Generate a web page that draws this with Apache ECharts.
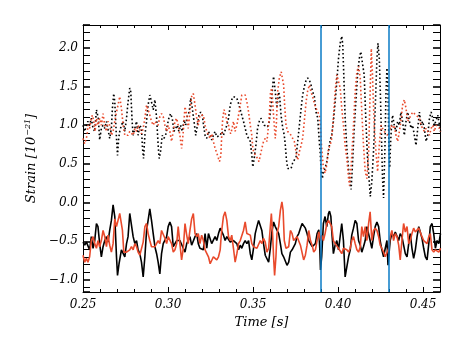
<!DOCTYPE html>
<html><head><meta charset="utf-8">
<script src="https://cdn.jsdelivr.net/npm/echarts@6/dist/echarts.min.js"></script>
<style>html,body{margin:0;padding:0;background:#fff}#c{width:476px;height:354px}</style>
</head><body><div id="c"></div>
<script>
// axis ranges
const xRange = [0.25, 0.46];
const yRange = [-1.155, 2.295];
// event markers (s)
const markerTimes = [0.39, 0.43];

// [time, strain] pairs
const blackDotted = [[0.2500,1.00],[0.2510,0.92],[0.2520,1.00],[0.2529,1.05],[0.2539,1.00],[0.2549,1.09],[0.2559,0.96],[0.2569,0.92],[0.2579,1.20],[0.2585,1.22],[0.2590,1.09],[0.2598,0.81],[0.2608,0.96],[0.2618,1.00],[0.2628,0.96],[0.2638,1.05],[0.2647,1.07],[0.2657,0.83],[0.2667,0.96],[0.2673,1.22],[0.2681,1.41],[0.2687,1.30],[0.2697,0.83],[0.2703,0.61],[0.2710,0.83],[0.2716,0.92],[0.2726,1.00],[0.2736,1.05],[0.2746,0.92],[0.2756,1.09],[0.2765,1.30],[0.2775,1.48],[0.2781,1.43],[0.2789,1.05],[0.2795,0.87],[0.2805,0.96],[0.2815,1.05],[0.2824,0.87],[0.2834,1.00],[0.2844,0.96],[0.2850,0.70],[0.2856,0.57],[0.2864,0.87],[0.2874,1.05],[0.2883,1.26],[0.2893,1.39],[0.2903,1.30],[0.2913,1.20],[0.2923,1.33],[0.2933,1.09],[0.2942,0.74],[0.2948,0.57],[0.2956,0.66],[0.2966,0.87],[0.2976,0.83],[0.2986,0.87],[0.2996,1.00],[0.3005,1.09],[0.3015,1.15],[0.3025,1.09],[0.3035,0.92],[0.3045,0.92],[0.3055,1.00],[0.3064,0.92],[0.3074,1.00],[0.3084,0.92],[0.3094,1.07],[0.3104,1.00],[0.3114,1.13],[0.3125,1.17],[0.3133,1.35],[0.3143,1.22],[0.3153,1.05],[0.3163,0.87],[0.3173,1.00],[0.3182,1.13],[0.3192,1.17],[0.3202,1.13],
[0.3208,1.02],[0.3218,0.87],[0.3228,0.83],[0.3238,0.92],[0.3248,0.87],[0.3257,0.81],[0.3267,0.87],[0.3277,0.92],[0.3287,0.85],[0.3297,0.83],[0.3307,0.87],[0.3316,0.92],[0.3326,0.87],[0.3336,0.87],[0.3346,1.00],[0.3356,1.09],[0.3366,1.26],[0.3375,1.33],[0.3385,1.37],[0.3395,1.38],[0.3405,1.35],[0.3415,1.28],[0.3425,1.26],[0.3434,1.13],[0.3444,1.05],[0.3454,0.96],[0.3464,0.87],[0.3474,0.83],[0.3484,0.79],[0.3493,0.61],[0.3499,0.46],[0.3507,0.57],[0.3517,0.74],[0.3527,0.96],[0.3537,1.05],[0.3546,1.09],[0.3556,1.05],[0.3566,1.00],[0.3576,0.98],[0.3586,0.98],[0.3596,1.05],[0.3606,1.26],[0.3615,1.48],[0.3621,1.63],[0.3631,1.43],[0.3641,1.22],[0.3651,1.43],[0.3657,1.37],[0.3665,1.13],[0.3675,0.96],[0.3684,0.87],[0.3690,0.74],[0.3696,0.57],[0.3704,0.44],[0.3714,0.42],[0.3724,0.44],[0.3733,0.51],[0.3743,0.51],[0.3753,0.59],[0.3763,0.79],[0.3773,1.00],[0.3783,1.22],[0.3792,1.39],[0.3802,1.50],[0.3812,1.58],[0.3822,1.61],[0.3832,1.58],[0.3841,1.52],[0.3851,1.43],[0.3861,1.37],[0.3871,1.17],[0.3881,1.09],
[0.3890,0.79],[0.3895,0.66],[0.3900,0.44],[0.3908,0.31],[0.3914,0.40],[0.3924,0.44],[0.3934,0.53],[0.3944,0.66],[0.3954,0.81],[0.3963,0.87],[0.3973,1.05],[0.3983,1.30],[0.3993,1.56],[0.4003,1.86],[0.4013,2.06],[0.4022,2.15],[0.4028,2.04],[0.4034,1.65],[0.4042,1.09],[0.4052,0.70],[0.4062,0.44],[0.4072,0.23],[0.4077,0.17],[0.4085,0.49],[0.4095,0.96],[0.4105,1.30],[0.4115,1.65],[0.4125,1.86],[0.4134,1.95],[0.4144,1.97],[0.4154,1.65],[0.4164,1.05],[0.4174,0.57],[0.4184,0.27],[0.4190,0.08],[0.4199,0.27],[0.4209,0.66],[0.4219,1.22],[0.4229,1.86],[0.4235,2.06],[0.4243,1.86],[0.4249,1.43],[0.4255,0.92],[0.4262,0.31],[0.4268,0.06],[0.4276,0.70],[0.4282,1.40],[0.4288,1.74],[0.4294,1.50],[0.4300,0.70],[0.4304,0.45],[0.4310,0.80],[0.4315,1.00],[0.4321,1.13],[0.4331,1.00],[0.4341,0.92],[0.4351,1.05],[0.4361,1.00],[0.4370,1.17],[0.4380,1.05],[0.4390,0.87],[0.4400,1.05],[0.4410,1.17],[0.4420,1.05],[0.4430,0.96],[0.4439,1.00],[0.4449,0.87],[0.4459,0.74],[0.4469,0.96],[0.4479,1.17],[0.4488,1.00],[0.4498,1.05],[0.4508,0.96],[0.4518,0.79],[0.4528,0.87],[0.4538,1.09],[0.4548,1.17],[0.4557,1.09],[0.4567,1.00],[0.4577,1.00],[0.4587,1.13],[0.4597,1.00],[0.4603,0.92]];

const redDotted = [[0.2500,0.83],[0.2510,0.76],[0.2516,0.74],[0.2524,0.87],[0.2529,1.00],[0.2539,0.96],[0.2549,1.09],[0.2555,1.13],[0.2563,1.05],[0.2571,0.92],[0.2579,1.09],[0.2588,1.00],[0.2598,1.09],[0.2608,1.00],[0.2618,1.15],[0.2628,1.00],[0.2638,0.92],[0.2647,1.05],[0.2657,1.00],[0.2667,0.87],[0.2677,0.92],[0.2687,1.05],[0.2697,1.17],[0.2706,1.26],[0.2716,1.37],[0.2726,1.22],[0.2736,1.00],[0.2746,0.87],[0.2756,0.89],[0.2765,0.87],[0.2775,0.92],[0.2785,0.94],[0.2795,0.87],[0.2805,0.96],[0.2815,0.92],[0.2824,1.00],[0.2834,0.98],[0.2844,0.89],[0.2854,0.96],[0.2864,1.09],[0.2874,1.26],[0.2883,1.28],[0.2893,1.13],[0.2903,1.05],[0.2913,1.00],[0.2923,1.05],[0.2933,1.05],[0.2942,1.00],[0.2952,1.11],[0.2962,1.15],[0.2972,1.11],[0.2982,1.00],[0.2992,0.92],[0.3001,1.00],[0.3011,0.92],[0.3021,0.79],[0.3031,0.92],[0.3041,1.05],[0.3051,1.09],[0.3060,1.00],[0.3070,0.87],[0.3080,0.70],[0.3090,0.92],[0.3100,1.24],[0.3110,1.13],[0.3119,0.96],[0.3129,1.17],[0.3139,1.37],[0.3149,1.41],[0.3159,1.26],[0.3169,1.09],[0.3178,1.00],[0.3188,1.13],[0.3198,1.13],
[0.3208,1.13],[0.3218,1.00],[0.3228,0.92],[0.3238,0.87],[0.3248,0.83],[0.3257,0.89],[0.3267,0.79],[0.3277,0.70],[0.3287,0.64],[0.3297,0.57],[0.3303,0.53],[0.3311,0.61],[0.3316,0.87],[0.3322,1.09],[0.3330,1.20],[0.3340,1.13],[0.3346,1.05],[0.3356,1.00],[0.3362,0.92],[0.3369,0.89],[0.3377,0.96],[0.3385,1.05],[0.3395,0.92],[0.3405,1.00],[0.3415,1.13],[0.3425,1.26],[0.3434,1.39],[0.3444,1.41],[0.3454,1.39],[0.3464,1.30],[0.3474,1.17],[0.3484,1.00],[0.3493,0.87],[0.3499,0.70],[0.3507,0.64],[0.3517,0.66],[0.3527,0.57],[0.3535,0.53],[0.3543,0.61],[0.3552,0.70],[0.3562,0.79],[0.3572,0.83],[0.3582,0.79],[0.3588,0.92],[0.3596,1.13],[0.3603,1.43],[0.3611,1.48],[0.3617,1.26],[0.3625,1.00],[0.3631,0.83],[0.3637,1.00],[0.3645,1.43],[0.3655,1.61],[0.3666,1.69],[0.3674,1.70],[0.3680,1.52],[0.3686,1.26],[0.3694,1.00],[0.3704,0.92],[0.3714,0.92],[0.3724,0.87],[0.3733,0.87],[0.3743,0.79],[0.3753,0.66],[0.3763,0.55],[0.3773,0.66],[0.3783,0.74],[0.3792,0.83],[0.3802,1.05],[0.3812,1.30],[0.3822,1.45],[0.3832,1.52],[0.3841,1.43],[0.3851,1.37],[0.3861,1.28],[0.3871,1.22],[0.3881,1.17],[0.3891,1.13],
[0.3897,0.95],[0.3904,0.70],[0.3914,0.45],[0.3924,0.38],[0.3934,0.49],[0.3944,0.70],[0.3954,0.74],[0.3963,0.83],[0.3973,1.09],[0.3983,1.43],[0.3993,1.65],[0.4003,1.67],[0.4013,1.48],[0.4022,1.22],[0.4032,1.00],[0.4042,0.74],[0.4052,0.57],[0.4062,0.32],[0.4068,0.22],[0.4077,0.45],[0.4091,1.00],[0.4101,1.43],[0.4111,1.69],[0.4121,1.76],[0.4131,1.61],[0.4140,1.17],[0.4150,0.74],[0.4160,0.40],[0.4170,0.31],[0.4180,0.66],[0.4189,1.43],[0.4196,1.99],[0.4203,1.65],[0.4213,1.00],[0.4223,0.66],[0.4233,0.40],[0.4243,0.74],[0.4253,1.00],[0.4262,0.96],[0.4272,0.92],[0.4282,0.92],[0.4292,0.87],[0.4302,0.92],[0.4312,1.00],[0.4321,0.96],[0.4331,1.00],[0.4341,0.87],[0.4351,0.79],[0.4361,0.92],[0.4370,1.05],[0.4380,1.26],[0.4390,1.33],[0.4400,1.22],[0.4410,1.05],[0.4420,1.09],[0.4430,1.13],[0.4439,1.17],[0.4449,1.15],[0.4459,1.13],[0.4469,1.15],[0.4479,1.09],[0.4488,1.00],[0.4498,0.96],[0.4508,0.92],[0.4518,0.96],[0.4528,0.92],[0.4538,0.87],[0.4548,0.96],[0.4557,1.00],[0.4567,0.92],[0.4577,1.00],[0.4587,1.00],[0.4597,0.96],[0.4603,0.92]];

const blackSolid = [[0.2500,-0.51],[0.2510,-0.55],[0.2520,-0.51],[0.2529,-0.53],[0.2539,-0.61],[0.2549,-0.44],[0.2559,-0.59],[0.2569,-0.49],[0.2579,-0.27],[0.2588,-0.31],[0.2598,-0.53],[0.2608,-0.70],[0.2618,-0.57],[0.2628,-0.49],[0.2638,-0.44],[0.2647,-0.51],[0.2657,-0.36],[0.2667,-0.23],[0.2677,-0.03],[0.2687,-0.18],[0.2697,-0.70],[0.2703,-0.94],[0.2712,-0.79],[0.2726,-0.61],[0.2736,-0.61],[0.2746,-0.70],[0.2756,-0.53],[0.2765,-0.44],[0.2775,-0.14],[0.2785,-0.14],[0.2795,-0.44],[0.2805,-0.53],[0.2815,-0.49],[0.2824,-0.61],[0.2834,-0.66],[0.2844,-0.77],[0.2854,-0.96],[0.2864,-0.70],[0.2874,-0.36],[0.2883,-0.23],[0.2893,-0.08],[0.2903,-0.23],[0.2913,-0.40],[0.2923,-0.57],[0.2933,-0.66],[0.2942,-0.77],[0.2952,-0.92],[0.2962,-0.66],[0.2972,-0.53],[0.2982,-0.53],[0.2992,-0.44],[0.3001,-0.31],[0.3011,-0.25],[0.3021,-0.31],[0.3031,-0.57],[0.3041,-0.59],[0.3051,-0.49],[0.3060,-0.51],[0.3070,-0.49],[0.3090,-0.59],[0.3100,-0.64],[0.3110,-0.53],[0.3129,-0.44],[0.3139,-0.55],[0.3149,-0.53],[0.3159,-0.44],[0.3169,-0.40],[0.3178,-0.53],[0.3188,-0.59],[0.3198,-0.57],[0.3208,-0.61],
[0.3218,-0.40],[0.3228,-0.59],[0.3238,-0.40],[0.3248,-0.42],[0.3257,-0.53],[0.3267,-0.51],[0.3277,-0.44],[0.3287,-0.49],[0.3297,-0.40],[0.3307,-0.33],[0.3316,-0.31],[0.3326,-0.42],[0.3336,-0.49],[0.3346,-0.44],[0.3356,-0.44],[0.3366,-0.51],[0.3375,-0.53],[0.3385,-0.49],[0.3405,-0.53],[0.3415,-0.61],[0.3425,-0.55],[0.3434,-0.59],[0.3444,-0.53],[0.3454,-0.49],[0.3464,-0.53],[0.3474,-0.49],[0.3484,-0.66],[0.3493,-0.74],[0.3503,-0.59],[0.3513,-0.40],[0.3523,-0.31],[0.3533,-0.23],[0.3543,-0.23],[0.3552,-0.36],[0.3562,-0.53],[0.3572,-0.68],[0.3582,-0.70],[0.3592,-0.77],[0.3602,-0.59],[0.3611,-0.38],[0.3621,-0.25],[0.3631,-0.31],[0.3641,-0.29],[0.3651,-0.40],[0.3661,-0.53],[0.3670,-0.66],[0.3680,-0.70],[0.3690,-0.72],[0.3700,-0.81],[0.3710,-0.77],[0.3720,-0.64],[0.3730,-0.61],[0.3739,-0.59],[0.3749,-0.53],[0.3759,-0.44],[0.3769,-0.40],[0.3779,-0.33],[0.3789,-0.27],[0.3798,-0.29],[0.3808,-0.33],[0.3818,-0.40],[0.3828,-0.49],[0.3838,-0.53],[0.3848,-0.57],[0.3857,-0.59],[0.3867,-0.53],[0.3877,-0.40],[0.3887,-0.35],[0.3893,-0.60],
[0.3897,-0.87],[0.3904,-0.70],[0.3914,-0.27],[0.3924,-0.18],[0.3934,-0.31],[0.3944,-0.14],[0.3950,-0.11],[0.3958,-0.18],[0.3963,-0.36],[0.3973,-0.66],[0.3983,-0.55],[0.3993,-0.49],[0.4003,-0.61],[0.4012,-0.59],[0.4022,-0.27],[0.4032,-0.49],[0.4042,-0.96],[0.4052,-0.83],[0.4062,-0.70],[0.4072,-0.61],[0.4081,-0.42],[0.4091,-0.33],[0.4101,-0.23],[0.4111,-0.27],[0.4121,-0.49],[0.4131,-0.55],[0.4140,-0.64],[0.4150,-0.57],[0.4160,-0.49],[0.4170,-0.31],[0.4180,-0.33],[0.4189,-0.49],[0.4199,-0.59],[0.4209,-0.44],[0.4219,-0.31],[0.4229,-0.25],[0.4239,-0.31],[0.4248,-0.49],[0.4258,-0.61],[0.4268,-0.70],[0.4278,-0.59],[0.4288,-0.49],[0.4294,-0.81],[0.4302,-0.61],[0.4307,-0.49],[0.4317,-0.40],[0.4327,-0.44],[0.4337,-0.38],[0.4347,-0.40],[0.4357,-0.49],[0.4366,-0.40],[0.4376,-0.44],[0.4386,-0.55],[0.4396,-0.66],[0.4406,-0.70],[0.4416,-0.53],[0.4425,-0.40],[0.4435,-0.59],[0.4445,-0.72],[0.4455,-0.61],[0.4465,-0.44],[0.4475,-0.31],[0.4484,-0.38],[0.4494,-0.46],[0.4504,-0.59],[0.4514,-0.70],[0.4524,-0.74],[0.4534,-0.53],[0.4543,-0.31],[0.4553,-0.27],[0.4563,-0.40],[0.4573,-0.59],[0.4583,-0.49],[0.4593,-0.53],[0.4603,-0.40]];

const redSolid = [[0.2500,-0.68],[0.2510,-0.77],[0.2520,-0.72],[0.2529,-0.77],[0.2539,-0.70],[0.2549,-0.49],[0.2559,-0.44],[0.2569,-0.53],[0.2579,-0.59],[0.2588,-0.49],[0.2598,-0.57],[0.2608,-0.49],[0.2618,-0.36],[0.2628,-0.44],[0.2638,-0.57],[0.2647,-0.42],[0.2657,-0.55],[0.2667,-0.64],[0.2677,-0.53],[0.2687,-0.21],[0.2697,-0.31],[0.2706,-0.31],[0.2716,-0.14],[0.2726,-0.16],[0.2732,-0.36],[0.2740,-0.64],[0.2748,-0.66],[0.2756,-0.64],[0.2765,-0.66],[0.2775,-0.61],[0.2785,-0.57],[0.2795,-0.61],[0.2805,-0.53],[0.2815,-0.57],[0.2824,-0.64],[0.2834,-0.68],[0.2844,-0.68],[0.2854,-0.51],[0.2864,-0.31],[0.2874,-0.27],[0.2883,-0.40],[0.2893,-0.49],[0.2903,-0.57],[0.2913,-0.59],[0.2923,-0.57],[0.2933,-0.55],[0.2942,-0.49],[0.2952,-0.53],[0.2962,-0.36],[0.2972,-0.35],[0.2982,-0.46],[0.2992,-0.53],[0.3001,-0.44],[0.3011,-0.42],[0.3021,-0.53],[0.3031,-0.64],[0.3041,-0.61],[0.3051,-0.53],[0.3060,-0.31],[0.3070,-0.53],[0.3080,-0.74],[0.3090,-0.59],[0.3100,-0.27],[0.3110,-0.42],[0.3119,-0.53],[0.3129,-0.36],[0.3139,-0.21],[0.3149,-0.14],[0.3159,-0.40],[0.3169,-0.44],[0.3178,-0.40],[0.3188,-0.53],[0.3198,-0.42],[0.3208,-0.49],
[0.3218,-0.61],[0.3228,-0.61],[0.3238,-0.70],[0.3248,-0.79],[0.3257,-0.81],[0.3267,-0.70],[0.3277,-0.68],[0.3287,-0.74],[0.3297,-0.70],[0.3307,-0.61],[0.3311,-0.49],[0.3316,-0.36],[0.3326,-0.18],[0.3336,-0.12],[0.3346,-0.23],[0.3356,-0.44],[0.3366,-0.49],[0.3375,-0.42],[0.3385,-0.59],[0.3395,-0.77],[0.3405,-0.66],[0.3415,-0.53],[0.3425,-0.49],[0.3434,-0.51],[0.3444,-0.36],[0.3454,-0.25],[0.3464,-0.40],[0.3474,-0.38],[0.3484,-0.42],[0.3493,-0.53],[0.3503,-0.57],[0.3513,-0.59],[0.3523,-0.59],[0.3533,-0.57],[0.3543,-0.49],[0.3552,-0.53],[0.3562,-0.46],[0.3572,-0.51],[0.3582,-0.64],[0.3592,-0.59],[0.3602,-0.31],[0.3608,-0.14],[0.3616,-0.44],[0.3621,-0.70],[0.3627,-0.94],[0.3635,-0.70],[0.3641,-0.40],[0.3651,-0.31],[0.3661,-0.10],[0.3670,0.01],[0.3677,-0.10],[0.3684,-0.49],[0.3694,-0.59],[0.3704,-0.61],[0.3710,-0.57],[0.3720,-0.36],[0.3730,-0.40],[0.3739,-0.49],[0.3749,-0.51],[0.3759,-0.44],[0.3769,-0.46],[0.3779,-0.55],[0.3789,-0.57],[0.3798,-0.74],[0.3808,-0.68],[0.3818,-0.55],[0.3828,-0.36],[0.3838,-0.49],[0.3848,-0.55],[0.3857,-0.64],[0.3867,-0.61],[0.3877,-0.49],[0.3887,-0.38],
[0.3897,-0.49],[0.3904,-0.42],[0.3914,-0.49],[0.3924,-0.40],[0.3934,-0.27],[0.3944,-0.23],[0.3954,-0.25],[0.3963,-0.31],[0.3973,-0.49],[0.3983,-0.53],[0.3993,-0.55],[0.4003,-0.59],[0.4012,-0.61],[0.4022,-0.66],[0.4032,-0.59],[0.4042,-0.57],[0.4052,-0.61],[0.4062,-0.64],[0.4072,-0.59],[0.4081,-0.49],[0.4091,-0.44],[0.4101,-0.53],[0.4111,-0.61],[0.4121,-0.64],[0.4131,-0.57],[0.4140,-0.31],[0.4150,-0.44],[0.4160,-0.31],[0.4170,-0.49],[0.4180,-0.27],[0.4189,-0.12],[0.4196,-0.14],[0.4199,-0.49],[0.4209,-0.36],[0.4219,-0.33],[0.4229,-0.36],[0.4239,-0.44],[0.4248,-0.55],[0.4258,-0.59],[0.4268,-0.64],[0.4278,-0.70],[0.4288,-0.68],[0.4298,-0.59],[0.4307,-0.44],[0.4317,-0.36],[0.4327,-0.49],[0.4337,-0.40],[0.4347,-0.44],[0.4357,-0.55],[0.4366,-0.74],[0.4376,-0.49],[0.4386,-0.27],[0.4396,-0.38],[0.4406,-0.31],[0.4416,-0.53],[0.4425,-0.49],[0.4435,-0.40],[0.4445,-0.33],[0.4455,-0.38],[0.4465,-0.36],[0.4475,-0.33],[0.4484,-0.31],[0.4494,-0.44],[0.4504,-0.49],[0.4514,-0.51],[0.4524,-0.53],[0.4534,-0.44],[0.4543,-0.40],[0.4553,-0.61],[0.4563,-0.64],[0.4573,-0.61],[0.4583,-0.59],[0.4593,-0.64],[0.4603,-0.59]];

const RED = '#e94a2c', BLACK = '#000000', BLUE = '#0a7bc6';
const FONT = "'DejaVu Serif'";
const isMult = (v, step) => Math.abs(v / step - Math.round(v / step)) < 1e-6;
const xFmt = v => isMult(v, 0.05) ? v.toFixed(2) : '';
const yFmt = v => isMult(v, 0.5) ? (v < 0 ? '\u2212' + Math.abs(v).toFixed(1) : v.toFixed(1)) : '';

const lbl = {color: '#000', fontFamily: FONT, fontStyle: 'italic', fontSize: 12};
const frameLine = {show: true, onZero: false, lineStyle: {color: '#000', width: 1}};

function xAx(pos, show) {
  return {
    type: 'value', min: xRange[0], max: xRange[1], interval: 0.05, position: pos,
    axisLine: frameLine,
    axisTick: {show: true, inside: true, length: 5, lineStyle: {color: '#000', width: 1}},
    minorTick: {show: true, splitNumber: 5, length: 3, lineStyle: {color: '#000', width: 1}},
    splitLine: {show: false}, minorSplitLine: {show: false},
    axisLabel: show ? Object.assign({formatter: xFmt, margin: 7}, lbl) : {show: false},
    name: show ? 'Time [s]' : '', nameLocation: 'middle', nameGap: 21,
    nameTextStyle: Object.assign({}, lbl, {fontSize: 13})
  };
}
function yAx(pos, show) {
  return {
    type: 'value', min: yRange[0], max: yRange[1], splitNumber: 7, position: pos,
    axisLine: frameLine,
    axisTick: {show: true, inside: true, length: 7, lineStyle: {color: '#000', width: 1.6}},
    minorTick: {show: true, splitNumber: 5, length: 7, lineStyle: {color: '#000', width: 1}},
    splitLine: {show: false}, minorSplitLine: {show: false},
    axisLabel: show ? Object.assign({formatter: yFmt, margin: 5}, lbl) : {show: false},
    name: show ? 'Strain [10{s|\u221221}]' : '', nameLocation: 'middle', nameGap: 40,
    nameTextStyle: Object.assign({}, lbl, {fontSize: 13,
      rich: {s: {fontFamily: FONT, fontStyle: 'italic', fontSize: 8, color: '#000', padding: [0, 0, 7, 1]}}})
  };
}

function line(name, data, color, dotted, width) {
  return {
    name, type: 'line', data, showSymbol: false, symbol: 'none', smooth: false,
    xAxisIndex: 0, yAxisIndex: 0, clip: true, silent: true,
    lineStyle: {color, width, type: dotted ? [1.6, 2.4] : 'solid', cap: 'butt'}
  };
}

const series = [
  line('H1 shifted', blackDotted, BLACK, true, 1.6),
  line('L1 shifted', redDotted, RED, true, 1.6),
  line('H1', blackSolid, BLACK, false, 1.6),
  line('L1', redSolid, RED, false, 1.6),
  {
    name: 'markers', type: 'line', data: [], xAxisIndex: 0, yAxisIndex: 0, z: 10,
    markLine: {silent: true, symbol: ['none', 'none'], label: {show: false},
      lineStyle: {color: BLUE, width: 1.5, type: 'solid'},
      data: markerTimes.map(t => ({xAxis: t}))}
  }
];

const chart = echarts.init(document.getElementById('c'), null, {renderer: 'canvas', width: 476, height: 354});
chart.setOption({
  animation: false,
  backgroundColor: '#ffffff',
  grid: {left: 83, top: 25, width: 357, height: 267, containLabel: false},
  xAxis: [xAx('bottom', true), xAx('top', false)],
  yAxis: [yAx('left', true), yAx('right', false)],
  series
});
</script></body></html>
